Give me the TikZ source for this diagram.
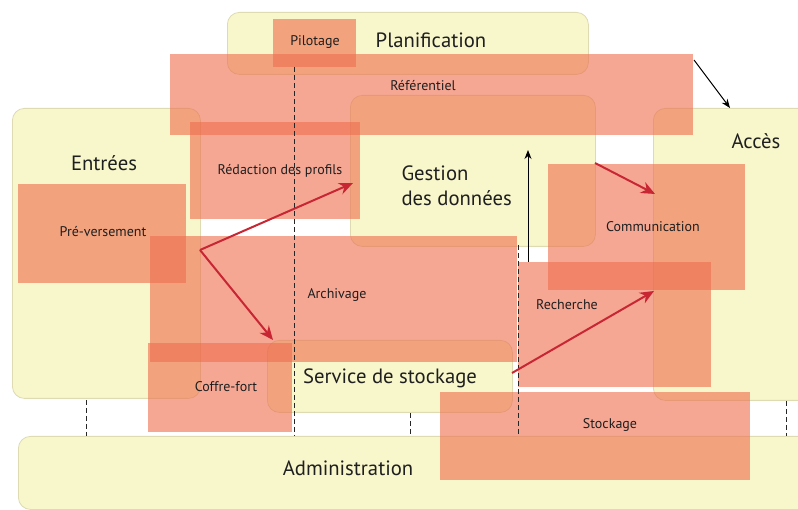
\documentclass[tikz,border=0pt]{standalone}
\usepackage{fontspec}
\setmainfont{PT Sans}
\usetikzlibrary{arrows.meta}
\definecolor{ylw}{RGB}{248,246,203}
\definecolor{ylwb}{RGB}{222,218,178}
\definecolor{salm}{RGB}{238,108,76}
\definecolor{redar}{RGB}{200,38,50}
\begin{document}
\begin{tikzpicture}[x=1pt,y=-1pt,
 ybox/.style={draw=ylwb, line width=0.8pt, fill=ylw, rounded corners=12pt, anchor=north west, inner sep=0pt},
 sbox/.style={fill=salm, fill opacity=0.6, draw=none, anchor=north west, inner sep=0pt},
 big/.style={font=\fontsize{20.7}{24.5}\selectfont, text=black!88},
 small/.style={font=\fontsize{14}{16}\selectfont, text=black!88},
 dline/.style={draw=black!85, dash pattern=on 5pt off 3pt, line width=0.8pt},
 redarrow/.style={draw=redar, line width=2pt, -{Stealth[length=14pt,width=12pt]}},
 blkarrow/.style={draw=black, line width=1pt, -{Stealth[length=9pt,width=7pt]}}]
\useasboundingbox (0,0) rectangle (798,510);
\clip (0,0) rectangle (798,510);
% yellow boxes
\node[ybox, minimum width=361pt, minimum height=62pt] (plan) at (227,12) {};
\node[ybox, minimum width=188pt, minimum height=290pt] (entr) at (12,108) {};
\node[ybox, minimum width=245pt, minimum height=151pt] (gest) at (350,95) {};
\node[ybox, minimum width=160pt, minimum height=292pt] (acces) at (653,108) {};
\node[ybox, minimum width=245pt, minimum height=72pt] (serv) at (267,340) {};
\node[ybox, minimum width=800pt, minimum height=73pt] (admin) at (18,436) {};
% salmon rectangles
\node[sbox, minimum width=523pt, minimum height=81pt] (ref) at (170,54) {};
\node[sbox, minimum width=83pt, minimum height=48pt] (pil) at (273,19) {};
\node[sbox, minimum width=170pt, minimum height=97pt] (red) at (190,122) {};
\node[sbox, minimum width=168pt, minimum height=99pt] (pre) at (18,184) {};
\node[sbox, minimum width=367pt, minimum height=126pt] (arch) at (150,236) {};
\node[sbox, minimum width=144pt, minimum height=89pt] (coff) at (148,343) {};
\node[sbox, minimum width=197pt, minimum height=126pt] (comm) at (548,164) {};
\node[sbox, minimum width=193pt, minimum height=125pt] (rech) at (518,262) {};
\node[sbox, minimum width=310pt, minimum height=88pt] (stock) at (440,392) {};
% dashed lines
\coordinate (d1a) at (294,67); \coordinate (d1b) at (294,436);
\coordinate (d2a) at (86,400); \coordinate (d2b) at (86,436);
\coordinate (d3a) at (410,413); \coordinate (d3b) at (410,436);
\coordinate (d4a) at (518,245); \coordinate (d4b) at (518,436);
\coordinate (d5a) at (786,401); \coordinate (d5b) at (786,436);
\draw[dline] (d1a) -- (d1b);
\draw[dline] (d2a) -- (d2b);
\draw[dline] (d3a) -- (d3b);
\draw[dline] (d4a) -- (d4b);
\draw[dline] (d5a) -- (d5b);
% labels
\node[big] (tplan) at (431,40) {Planification};
\node[small] (tpil) at (315,42) {Pilotage};
\node[small] (tref) at (423,86) {Référentiel};
\node[big] (tentr) at (104,163) {Entrées};
\node[small] (tred) at (280,171) {Rédaction des profils};
\node[small] (tpre) at (103,232) {Pré-versement};
\node[big, align=left, anchor=west] (tgest) at (398,186) {Gestion\\des données};
\node[big] (tacc) at (756,141) {Accès};
\node[small] (tcomm) at (653,227) {Communication};
\node[small] (tarch) at (337,295) {Archivage};
\node[small] (trech) at (567,305) {Recherche};
\node[small] (tcoff) at (226,387) {Coffre-fort};
\node[big] (tserv) at (390,378) {Service de stockage};
\node[small] (tstock) at (610,425) {Stockage};
\node[big] (tadm) at (348,468) {Administration};
% arrows
\coordinate (ra0) at (200,250);
\coordinate (ra1) at (353,183);
\coordinate (ra2) at (273,340);
\coordinate (rb0) at (595,163);
\coordinate (rb1) at (655,194);
\coordinate (rc0) at (512,373);
\coordinate (rc1) at (654,291);
\coordinate (ka0) at (694,60);
\coordinate (ka1) at (730,108);
\coordinate (kb0) at (528,262);
\coordinate (kb1) at (528,150);
\draw[redarrow] (ra0) -- (ra1);
\draw[redarrow] (ra0) -- (ra2);
\draw[redarrow] (rb0) -- (rb1);
\draw[redarrow] (rc0) -- (rc1);
\draw[blkarrow] (ka0) -- (ka1);
\draw[blkarrow] (kb0) -- (kb1);
\end{tikzpicture}
\end{document}
